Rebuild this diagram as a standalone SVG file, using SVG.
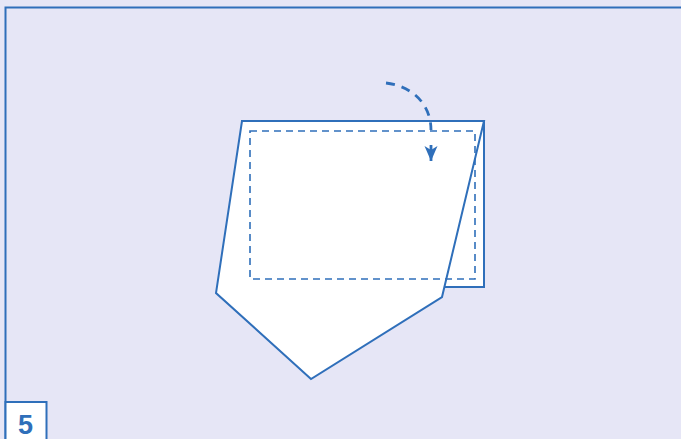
<svg xmlns="http://www.w3.org/2000/svg" width="681" height="439" viewBox="0 0 681 439">
  <style>
    .ln { fill: none; stroke: #2f6fba; stroke-width: 2; stroke-linejoin: miter; }
    .sh { fill: #ffffff; stroke: #2f6fba; stroke-width: 2; stroke-linejoin: miter; }
    .dash { fill: none; stroke: #2f6fba; stroke-width: 1.6; stroke-dasharray: 7 5; }
    .arr { fill: none; stroke: #2f6fba; stroke-width: 2.8; }
    .num { font-family: "Liberation Sans", Arial, sans-serif; font-weight: bold; font-size: 27px; fill: #2f6fba; }
  </style>
  <defs>
    <marker id="ah" markerUnits="userSpaceOnUse" markerWidth="18" markerHeight="14" refX="16" refY="7" orient="auto" viewBox="0 0 18 14">
      <path d="M16,7 L1,0.5 L5,7 L1,13.5 Z" fill="#2f6fba"/>
    </marker>
  </defs>
  <rect x="0" y="0" width="681" height="439" fill="#e6e6f6"/>
  <g id="frame">
    <path class="ln" d="M5.5,439 L5.5,7.5 L681,7.5"/>
  </g>
  <g id="back-sheet">
    <rect class="sh" x="242" y="121" width="242" height="166"/>
  </g>
  <g id="front-sheet">
    <path class="sh" d="M242,121 L484,121 L442,297 L311,379 L216,293 Z"/>
  </g>
  <g id="fold-line">
    <rect class="dash" x="250" y="131" width="225" height="148"/>
  </g>
  <g id="connectors">
    <path class="arr" stroke-dasharray="9 7" d="M386,83 C412,86 431,104 431,130"/>
    <path class="arr" d="M431,145 L431,161" marker-end="url(#ah)"/>
  </g>
  <g id="step-label">
    <rect x="5.5" y="402" width="41" height="40" fill="#ffffff" stroke="#2f6fba" stroke-width="2"/>
    <text class="num" x="25.5" y="434" text-anchor="middle">5</text>
  </g>
</svg>
